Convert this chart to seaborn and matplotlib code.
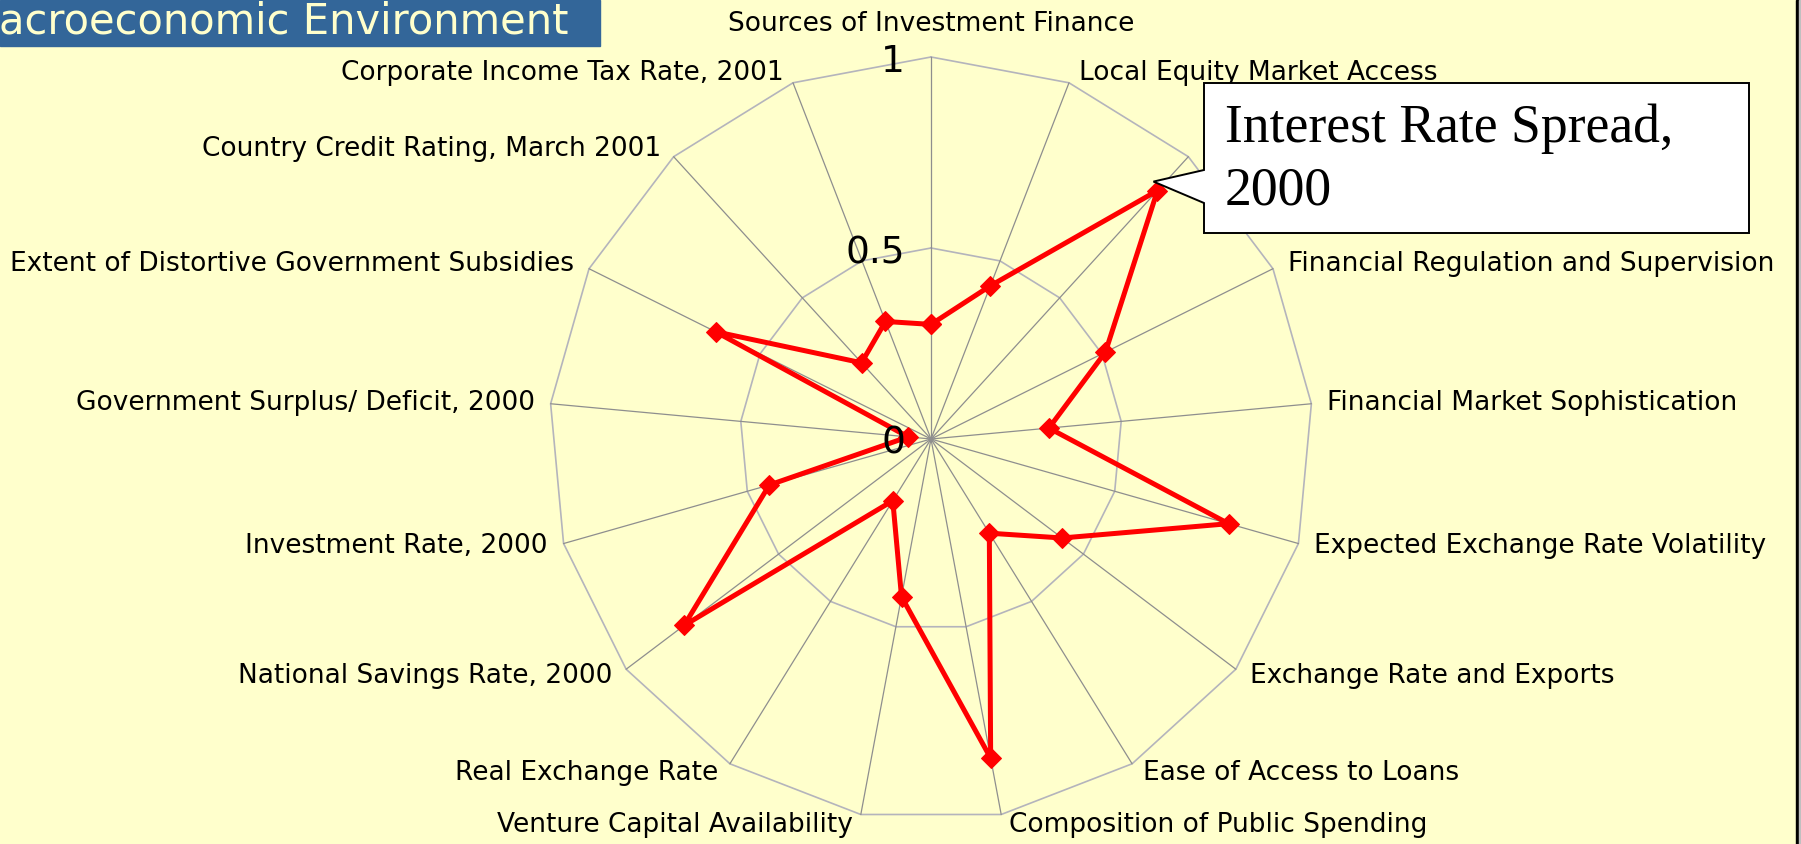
import numpy as np
import pandas as pd
import matplotlib
matplotlib.use('Agg')
import matplotlib.pyplot as plt
import seaborn as sns
from matplotlib.patches import Polygon, Rectangle

# spokes clockwise from the top
categories = [
    'Sources of Investment Finance',
    'Local Equity Market Access',
    'Interest Rate Spread, 2000',
    'Financial Regulation and Supervision',
    'Financial Market Sophistication',
    'Expected Exchange Rate Volatility',
    'Exchange Rate and Exports',
    'Ease of Access to Loans',
    'Composition of Public Spending',
    'Venture Capital Availability',
    'Real Exchange Rate',
    'National Savings Rate, 2000',
    'Investment Rate, 2000',
    'Government Surplus/ Deficit, 2000',
    'Extent of Distortive Government Subsidies',
    'Country Credit Rating, March 2001',
    'Corporate Income Tax Rate, 2001',
]
values = [0.30, 0.43, 0.88, 0.51, 0.31, 0.81, 0.43, 0.29, 0.85,
          0.42, 0.19, 0.81, 0.44, 0.06, 0.63, 0.27, 0.33]
ring_levels = [0.5, 1.0]
tick_values = [0, 0.5, 1]
tick_labels = ['0', '0.5', '1']
title = 'acroeconomic Environment'
callout = 'Interest Rate Spread,\n2000'

BG = '#FFFFCC'
sns.set_theme(style='white')
plt.rcParams['font.family'] = 'DejaVu Sans'
plt.rcParams['text.color'] = 'black'

W, H = 1801, 844
fig = plt.figure(figsize=(W / 100, H / 100), dpi=100, facecolor=BG)
cx, cy, R = 931, 439, 382
ax = fig.add_axes([(cx - R) / W, (H - cy - R) / H, 2 * R / W, 2 * R / H],
                  projection='polar')
ax.set_theta_zero_location('N')
ax.set_theta_direction(-1)
ax.set_facecolor('none')

n = len(categories)
theta = np.linspace(0, 2 * np.pi, n, endpoint=False)
closed = np.append(theta, theta[0])

# web: light rings + darker spokes
for lvl in ring_levels:
    ax.plot(closed, [lvl] * (n + 1), color='#b4b4bc', lw=1.2, clip_on=False, zorder=1)
for t in theta:
    ax.plot([t, t], [0, 1], color='#8e8e8e', lw=0.9, clip_on=False, zorder=1)

df = pd.DataFrame({'theta': closed, 'value': values + values[:1]})
sns.lineplot(data=df, x='theta', y='value', sort=False, estimator=None, ax=ax,
             color='#FF0000', lw=3.6, marker='D', markersize=10.5,
             markeredgecolor='#FF0000', clip_on=False, zorder=3)

ax.set_ylim(0, 1)
ax.grid(False)
ax.set_xticks([])
ax.set_yticks([])
ax.set_xlabel('')
ax.set_ylabel('')
ax.spines['polar'].set_visible(False)

# category labels just outside the spoke ends
for t, lab in zip(theta, categories):
    s, c = np.sin(t), np.cos(t)
    if abs(s) < 1e-6:
        ax.annotate(lab, (t, 1), xytext=(0, 26), textcoords='offset pixels',
                    ha='center', va='baseline', fontsize=19, annotation_clip=False)
    else:
        dx = np.sign(s) * (6 + 10 * abs(s))
        dy = 10.5 * c
        ax.annotate(lab, (t, 1), xytext=(dx, dy), textcoords='offset pixels',
                    ha='left' if s > 0 else 'right', va='center', fontsize=19,
                    annotation_clip=False)

# radial scale along the top spoke
for v, lab in zip(tick_values, tick_labels):
    ax.annotate(lab, (0, v), xytext=(-26, -5), textcoords='offset pixels',
                ha='right', va='center', fontsize=27, zorder=4, annotation_clip=False)

# overlay in pixel coordinates: title bar, callout, slide border
ov = fig.add_axes([0, 0, 1, 1], zorder=5)
ov.set_xlim(0, W)
ov.set_ylim(H, 0)
ov.axis('off')

ov.add_patch(Rectangle((0, 0), 600, 46, color='#336699'))
ov.text(-1, 33, title, color=BG, fontsize=30, va='baseline', ha='left')

px, py = ax.transData.transform((theta[2], values[2]))
tip = (px - 4, H - py - 9)
bx0, by0, bx1, by1 = 1204, 83, 1749, 233
ov.add_patch(Polygon([(bx0, by0), (bx1, by0), (bx1, by1), (bx0, by1),
                      (bx0, 203), tip, (bx0, 170)],
                     closed=True, fc='white', ec='black', lw=1.4))
ov.text(1225, 104, callout, family='Liberation Serif', fontsize=38.6,
        va='top', ha='left', linespacing=1.3)

ov.add_patch(Rectangle((1796, 0), 2.5, H, color='black'))
ov.add_patch(Rectangle((1798.5, 0), 2.5, H, color='#c0c0c0'))

fig.savefig('out.png', dpi=100, facecolor=BG)
